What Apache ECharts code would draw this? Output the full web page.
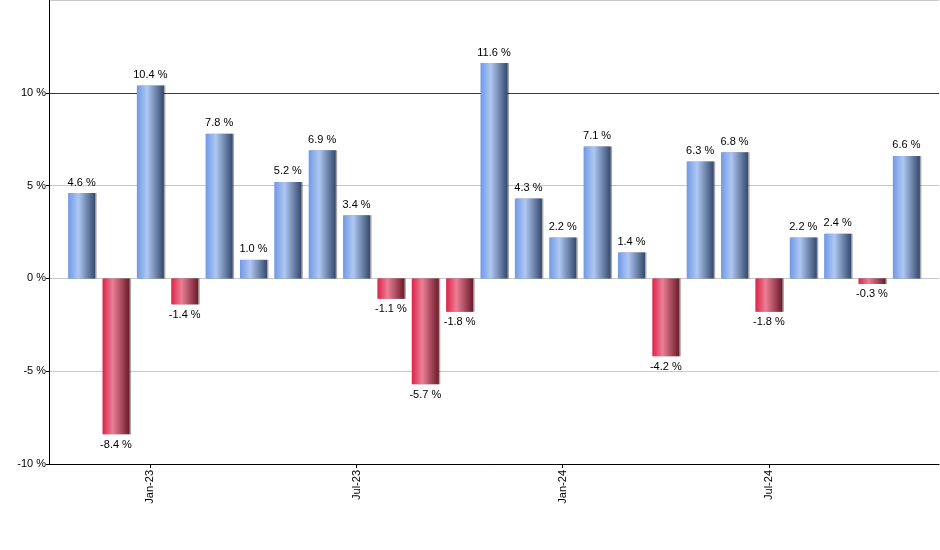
<!DOCTYPE html>
<html>
<head>
<meta charset="utf-8">
<script src="https://cdn.jsdelivr.net/npm/echarts@6/dist/echarts.min.js"></script>
<style>html,body{margin:0;padding:0;background:#fff}#c{width:940px;height:550px}</style>
</head>
<body>
<div id="c"></div>
<script>
const months = ['Nov-22','Dec-22','Jan-23','Feb-23','Mar-23','Apr-23','May-23','Jun-23','Jul-23','Aug-23','Sep-23','Oct-23','Nov-23','Dec-23','Jan-24','Feb-24','Mar-24','Apr-24','May-24','Jun-24','Jul-24','Aug-24','Sep-24','Oct-24','Nov-24'];
const values = [4.6,-8.4,10.4,-1.4,7.8,1.0,5.2,6.9,3.4,-1.1,-5.7,-1.8,11.6,4.3,2.2,7.1,1.4,-4.2,6.3,6.8,-1.8,2.2,2.4,-0.3,6.6];
const xTickLabels = ['Jan-23','Jul-23','Jan-24','Jul-24'];
const yMin = -10, yMax = 15, yStep = 5;

const tickIdx = xTickLabels.map(l => months.indexOf(l));
const chart = echarts.init(document.getElementById('c'), null, {renderer:'canvas'});
const blue = new echarts.graphic.LinearGradient(0,0,1,0,[
  {offset:0,color:'#6f98e6'},{offset:0.38,color:'#afc8f2'},{offset:1,color:'#34496e'}]);
const red = new echarts.graphic.LinearGradient(0,0,1,0,[
  {offset:0,color:'#dc2248'},{offset:0.38,color:'#ec7f95'},{offset:1,color:'#6a1a2a'}]);
const font = '"Liberation Sans", Arial, sans-serif';
chart.setOption({
  animation:false,
  grid:{left:49,right:1,top:0,bottom:86,containLabel:false,outerBoundsMode:'none'},
  xAxis:{
    type:'value', min:-0.95, max:months.length-0.05,
    splitLine:{show:false},
    axisLine:{show:true,onZero:false,lineStyle:{color:'#000',width:1}},
    axisTick:{show:true,length:4,lineStyle:{color:'#000'},customValues:tickIdx},
    axisLabel:{show:true,rotate:90,margin:6,color:'#000',fontSize:11,fontFamily:font,
      customValues:tickIdx, formatter:v=>months[Math.round(v)]}
  },
  yAxis:{
    type:'value', min:yMin, max:yMax, interval:yStep,
    axisLine:{show:true,onZero:false,lineStyle:{color:'#000',width:1}},
    axisTick:{show:true,length:3,lineStyle:{color:'#000'}},
    axisLabel:{color:'#000',fontSize:11,fontFamily:font,margin:3,showMaxLabel:false,formatter:v=>v+' %'},
    splitLine:{show:true,lineStyle:{color:['#c8c8c8','#c8c8c8','#c8c8c8','#c8c8c8','#0b5e0b','#c8c8c8'],width:1}}
  },
  series:[{
    type:'bar', barWidth:27,
    data: values.map((v,i)=>({
      value:[i,v],
      itemStyle:{color: v>=0?blue:red, shadowColor:'rgba(0,0,0,0.35)',shadowOffsetX:1.5,shadowOffsetY:0,shadowBlur:0},
      label:{position: v>=0?'top':'bottom'}
    })),
    label:{show:true,distance:5,color:'#000',fontSize:11,fontFamily:font,
      formatter:p=>p.value[1].toFixed(1)+' %'}
  }]
});
</script>
</body>
</html>
